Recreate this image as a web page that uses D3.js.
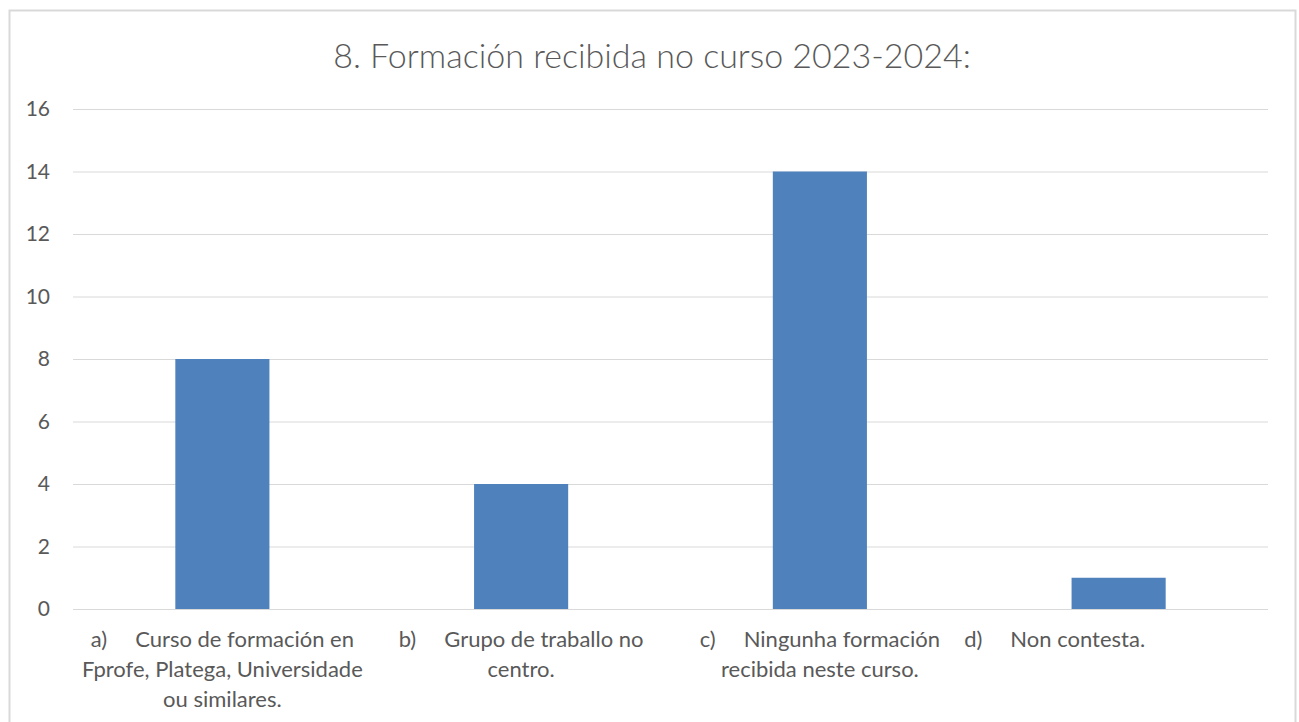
<!DOCTYPE html>
<html>
<head>
<meta charset="utf-8">
<script src="https://cdn.jsdelivr.net/npm/d3@7"></script>
<style>
	body { margin: 0; background: #ffffff; }
	svg { display: block; }
	text { font-family: Lato, "Open Sans", sans-serif; fill: #595959; }
</style>
</head>
<body>
<div id="chart"></div>
<script>

var title = "8. Formación recibida no curso 2023-2024:";

var prefixes = [ "a)", "b)", "c)", "d)" ];

var labelLines = [
	[ "Curso de formación en", "Fprofe, Platega, Universidade", "ou similares." ],
	[ "Grupo de traballo no", "centro." ],
	[ "Ningunha formación", "recibida neste curso." ],
	[ "Non contesta." ]
];

var values = [ 8, 4, 14, 1 ];

var yTicks = [ 0, 2, 4, 6, 8, 10, 12, 14, 16 ];

( function() {

	var width = 1299;
	var height = 722;

	var margin = {
		top: 109,
		left: 73,
		right: 31,
		bottom: 113
	};

	var size = {
		width: width - margin.left - margin.right,
		height: height - margin.top - margin.bottom
	};

	var svg = d3.select( "#chart" ).append( "svg" )
		.attr( "width", width )
		.attr( "height", height );

	// chart frame
	svg.append( "rect" )
		.attr( "x", 9.5 )
		.attr( "y", 10.5 )
		.attr( "width", 1286 )
		.attr( "height", 730 )
		.attr( "fill", "#ffffff" )
		.attr( "stroke", "#d9d9d9" )
		.attr( "stroke-width", 2 );

	svg.append( "text" )
		.attr( "x", 652 )
		.attr( "y", 68 )
		.attr( "text-anchor", "middle" )
		.style( "font-size", "34px" )
		.style( "font-weight", 300 )
		.text( title );

	var scale = {
		x: d3.scaleBand()
			.domain( d3.range( values.length ) )
			.range( [ 0, size.width ] )
			.padding( 0 ),
		y: d3.scaleLinear()
			.domain( [ 0, 16 ] )
			.range( [ size.height, 0 ] )
	};

	var root = svg.append( "g" )
		.attr( "transform", "translate(" + margin.left + "," + margin.top + ")" );

	// gridlines + tick labels via axisLeft
	var yAxis = root.append( "g" )
		.call( d3.axisLeft( scale.y )
			.tickValues( yTicks )
			.tickSize( -size.width )
			.tickPadding( 23 ) );

	yAxis.select( ".domain" ).remove();
	yAxis.selectAll( ".tick line" )
		.attr( "stroke", "#d9d9d9" )
		.attr( "stroke-width", 1 );
	yAxis.selectAll( ".tick text" )
		.attr( "fill", "#595959" )
		.style( "font-size", "21px" )
		.style( "font-family", "Lato, sans-serif" );

	var barWidth = scale.x.bandwidth() * 0.315;

	root.append( "g" )
		.selectAll( "rect" )
		.data( values )
		.enter()
		.append( "rect" )
		.attr( "x", function( d, i ) { return scale.x( i ) + scale.x.bandwidth() / 2 - barWidth / 2; } )
		.attr( "y", function( d ) { return scale.y( d ); } )
		.attr( "width", barWidth )
		.attr( "height", function( d ) { return size.height - scale.y( d ); } )
		.attr( "fill", "#4f81bd" );

	// category labels
	var labels = root.append( "g" )
		.attr( "transform", "translate(0," + size.height + ")" )
		.selectAll( "g" )
		.data( labelLines )
		.enter()
		.append( "g" )
		.attr( "transform", function( d, i ) {
			var shift = i == labelLines.length - 1 ? -64 : 0;
			return "translate(" + ( scale.x( i ) + scale.x.bandwidth() / 2 + shift ) + ",0)";
		} );

	labels.each( function( lines, i ) {
		var g = d3.select( this );
		lines.forEach( function( line, j ) {
			var t = g.append( "text" )
				.attr( "y", 38 + j * 30 )
				.attr( "text-anchor", "middle" )
				.style( "font-size", "22px" );
			if( j == 0 )
			{
				t.append( "tspan" ).text( prefixes[ i ] );
				t.append( "tspan" ).attr( "dx", 28 ).text( line );
			}
			else
			{
				t.text( line );
			}
		} );
	} );

} )();
</script>
</body>
</html>
